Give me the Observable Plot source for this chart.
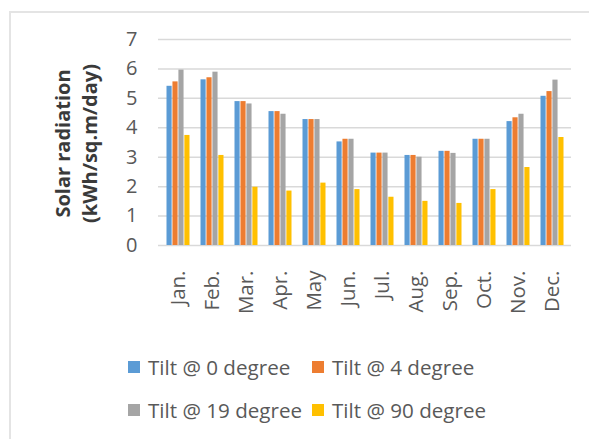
<!DOCTYPE html>
<html>
<head>
<meta charset="utf-8">
<script src="https://cdn.jsdelivr.net/npm/d3@7"></script>
<script src="https://cdn.jsdelivr.net/npm/@observablehq/plot@0.6"></script>
<style>
  body { margin: 0; background: #fff; font-family: "Open Sans", sans-serif; }
  #wrap { position: relative; width: 589px; height: 439px; overflow: hidden; background: #fff; }
  #frame { position: absolute; left: 9px; top: 11px; width: 700px; height: 600px;
           border-left: 2px solid #e4e4e4; border-top: 2px solid #e4e4e4; }
  #chart { position: absolute; left: 0; top: 0; }
  .item { position: absolute; display: flex; align-items: center; height: 24px;
          font-size: 20.6px; color: #595959; white-space: nowrap; }
  .sw { width: 12px; height: 12px; margin-right: 8px; flex: none; }
</style>
</head>
<body>
<div id="wrap">
  <div id="frame"></div>
  <div id="chart"></div>
  <div id="legend"></div>
</div>
<script>
const months = ["Jan.","Feb.","Mar.","Apr.","May","Jun.","Jul.","Aug.","Sep.","Oct.","Nov.","Dec."];
const tilt0  = [5.41,5.63,4.89,4.55,4.28,3.52,3.14,3.06,3.20,3.61,4.21,5.07];
const tilt4  = [5.56,5.70,4.89,4.55,4.28,3.61,3.14,3.06,3.20,3.61,4.34,5.23];
const tilt19 = [5.96,5.89,4.81,4.46,4.28,3.61,3.14,3.00,3.13,3.61,4.46,5.62];
const tilt90 = [3.74,3.06,1.98,1.85,2.12,1.90,1.64,1.50,1.43,1.90,2.65,3.67];
const seriesNames = ["Tilt @ 0 degree","Tilt @ 4 degree","Tilt @ 19 degree","Tilt @ 90 degree"];
const seriesColors = ["#5B9BD5","#ED7D31","#A5A5A5","#FFC000"];
const yTicks = [0,1,2,3,4,5,6,7];
const yTitle = "Solar radiation\n(kWh/sq.m/day)";

const seriesValues = [tilt0, tilt4, tilt19, tilt90];

const W = 589, H = 340, mL = 158, mR = 18, mT = 39, mB = 95;
const padIn = 0.3, padOut = 0.22;
// band geometry (same parameters as the Plot x scale) to split each month band into 4 bars
const bandScale = d3.scaleBand(months, [mL, W - mR]).paddingInner(padIn).paddingOuter(padOut);
const sub = bandScale.bandwidth() / seriesValues.length;

const barMarks = seriesValues.map((vals, i) =>
  Plot.barY(months.map((m, j) => ({month: m, value: vals[j]})), {
    x: "month", y: "value", fill: seriesColors[i],
    insetLeft: i * sub + 0.5,
    insetRight: (seriesValues.length - 1 - i) * sub + 0.5
  })
);

const chart = Plot.plot({
  width: W, height: H,
  marginLeft: mL, marginRight: mR, marginTop: mT, marginBottom: mB,
  style: {fontFamily: "Open Sans", fontSize: "20px", color: "#595959", background: "transparent"},
  x: {type: "band", domain: months, paddingInner: padIn, paddingOuter: padOut},
  y: {domain: [0, 7]},
  marks: [
    Plot.gridY(yTicks.slice(1), {stroke: "#d9d9d9", strokeOpacity: 1, strokeWidth: 1.5}),
    Plot.ruleY([0], {stroke: "#d9d9d9", strokeWidth: 1.5}),
    ...barMarks,
    Plot.axisY(yTicks, {tickSize: 0, tickPadding: 21, label: null, fontSize: 20, fill: "#595959"}),
    Plot.axisX({tickRotate: -90, tickSize: 0, tickPadding: 25, label: null, fontSize: 20.5, fill: "#595959"}),
    Plot.text([yTitle], {frameAnchor: "left", dx: -84, dy: 1, rotate: -90, lineHeight: 1.35,
      fontWeight: "bold", fontSize: 20, fill: "#3a3a3a", textAnchor: "middle"})
  ]
});
document.getElementById("chart").appendChild(chart);

// legend
const legendPos = [[128, 355], [312, 355], [128, 398], [312, 398]];
const legend = document.getElementById("legend");
seriesNames.forEach((name, i) => {
  const it = document.createElement("div");
  it.className = "item";
  it.style.left = legendPos[i][0] + "px";
  it.style.top = legendPos[i][1] + "px";
  const sw = document.createElement("span");
  sw.className = "sw";
  sw.style.background = seriesColors[i];
  const tx = document.createElement("span");
  tx.textContent = name;
  it.appendChild(sw); it.appendChild(tx);
  legend.appendChild(it);
});
</script>
</body>
</html>
